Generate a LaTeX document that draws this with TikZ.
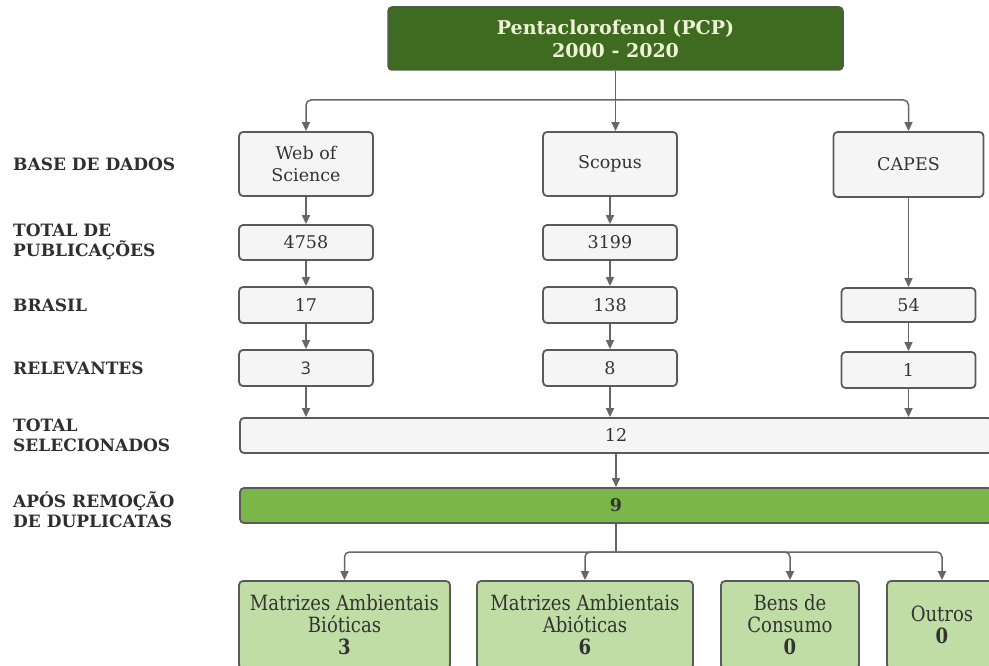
\documentclass[tikz,border=0pt]{standalone}
\usepackage{fontspec}
\setmainfont{DejaVu Serif}
\setsansfont{Open Sans}
\newfontfamily\narrowserif[FakeStretch = 0.86]{DejaVu Serif}
\usepackage{xcolor}
\usepackage{tikz}
\usetikzlibrary{arrows.meta}
\definecolor{titlegreen}{HTML}{3E6B1F}
\definecolor{titleline}{HTML}{4F5A48}
\definecolor{titletext}{HTML}{EEF3D8}
\definecolor{midgreen}{HTML}{7AB648}
\definecolor{lightgreen}{HTML}{C0DDA6}
\definecolor{boxfill}{HTML}{F5F5F5}
\definecolor{boxline}{HTML}{5A5A5A}
\definecolor{boxtext}{HTML}{333333}
\definecolor{labeltext}{HTML}{2F2F2F}
\definecolor{linegray}{HTML}{666666}
\tikzset{
row label/.style = {anchor = west, align = left, inner sep = 0pt, text = labeltext, font = \fontsize{17}{20}\selectfont\bfseries},
title box/.style = {rectangle, draw = titleline, fill = titlegreen, line width = 1.5pt, rounded corners = 4pt, minimum width = 455pt, minimum height = 63pt, inner sep = 0pt, align = center, text = titletext, font = \fontsize{19}{23}\selectfont\bfseries},
data box/.style args = {#1, #2}{rectangle, draw = boxline, fill = boxfill, line width = 1.8pt, rounded corners = 4pt, minimum width = #1, minimum height = #2, inner sep = 0pt, align = center, text = boxtext, font = \fontsize{17.5}{22}\selectfont},
wide box/.style = {data box = {752pt, 35pt}},
dup box/.style = {wide box, fill = midgreen, font = \fontsize{17.5}{22}\selectfont\bfseries},
result box/.style args = {#1, #2}{data box = {#1, #2}, fill = lightgreen, font = \fontsize{21}{22}\narrowserif},
conn/.style = {draw = linegray, line width = 1.5pt, -{Triangle[length = 9pt, width = 8pt]}, rounded corners = 5pt},
plain conn/.style = {draw = linegray, line width = 1.5pt},
}
\begin{document}
\begin{tikzpicture}[x = 1pt, y = -1pt]
    \useasboundingbox (0, 0) rectangle (989, 666);
    \clip (0, 0) rectangle (989, 666);
    % row labels
    \node[row label] (lbase) at (13, 164) {BASE DE DADOS};
    \node[row label] (lpub) at (13, 242) {TOTAL DE\\PUBLICAÇÕES};
    \node[row label] (lbr) at (13, 305) {BRASIL};
    \node[row label] (lrel) at (13, 368) {RELEVANTES};
    \node[row label] (ltot) at (13, 435) {TOTAL\\SELECIONADOS};
    \node[row label] (ldup) at (13, 510) {APÓS REMOÇÃO\\DE DUPLICATAS};
    % title
    \node[title box] (pcp) at (615.5, 38.5) {Pentaclorofenol (PCP)\\2000 - 2020};
    % databases
    \node[data box = {134pt, 64pt}] (wos) at (306, 164) {Web of\\Science};
    \node[data box = {134pt, 64pt}] (scopus) at (610, 164) {Scopus};
    \node[data box = {150pt, 65pt}] (capes) at (908.5, 164.5) {CAPES};
    \node[data box = {134pt, 35pt}] (pub1) at (306, 242.5) {4758};
    \node[data box = {134pt, 35pt}] (pub2) at (610, 242.5) {3199};
    \node[data box = {134pt, 36pt}] (br1) at (306, 305) {17};
    \node[data box = {134pt, 36pt}] (br2) at (610, 305) {138};
    \node[data box = {134pt, 34pt}] (br3) at (908.5, 305) {54};
    \node[data box = {134pt, 36pt}] (rel1) at (306, 368) {{\sffamily 3}};
    \node[data box = {134pt, 36pt}] (rel2) at (610, 368) {8};
    \node[data box = {134pt, 36pt}] (rel3) at (908.5, 370) {1};
    \node[wide box] (total) at (616, 435.5) {12};
    \node[dup box] (dup) at (616, 505.5) {9};
    % categories
    \node[result box = {211pt, 88pt}] (bio) at (344.5, 625) {Matrizes Ambientais\\Bióticas\\\textbf{3}};
    \node[result box = {216pt, 88pt}] (abio) at (585, 625) {Matrizes Ambientais\\Abióticas\\\textbf{6}};
    \node[result box = {138pt, 88pt}] (bens) at (790, 625) {Bens de\\Consumo\\\textbf{0}};
    \node[result box = {110pt, 88pt}] (outros) at (942, 625) {Outros\\\textbf{0}};
    % connectors
    \coordinate (top split) at (616, 100);
    \coordinate (bottom split) at (616, 552);
    \draw[conn] (pcp.south) -- (pcp.south |- scopus.north);
    \draw[conn] (top split) -| (wos.north);
    \draw[conn] (top split) -| (capes.north);
    \foreach \a/\b in {wos/pub1, pub1/br1, br1/rel1, scopus/pub2, pub2/br2, br2/rel2, capes/br3, br3/rel3}
        \draw[conn] (\a) -- (\b);
    \foreach \a in {rel1, rel2, rel3}
        \draw[conn] (\a.south) -- (\a.south |- total.north);
    \draw[conn] (total) -- (dup);
    \draw[plain conn] (dup.south) -- (bottom split);
    \foreach \m in {bio, abio, bens, outros}
        \draw[conn] (bottom split) -| (\m.north);
\end{tikzpicture}
\end{document}
